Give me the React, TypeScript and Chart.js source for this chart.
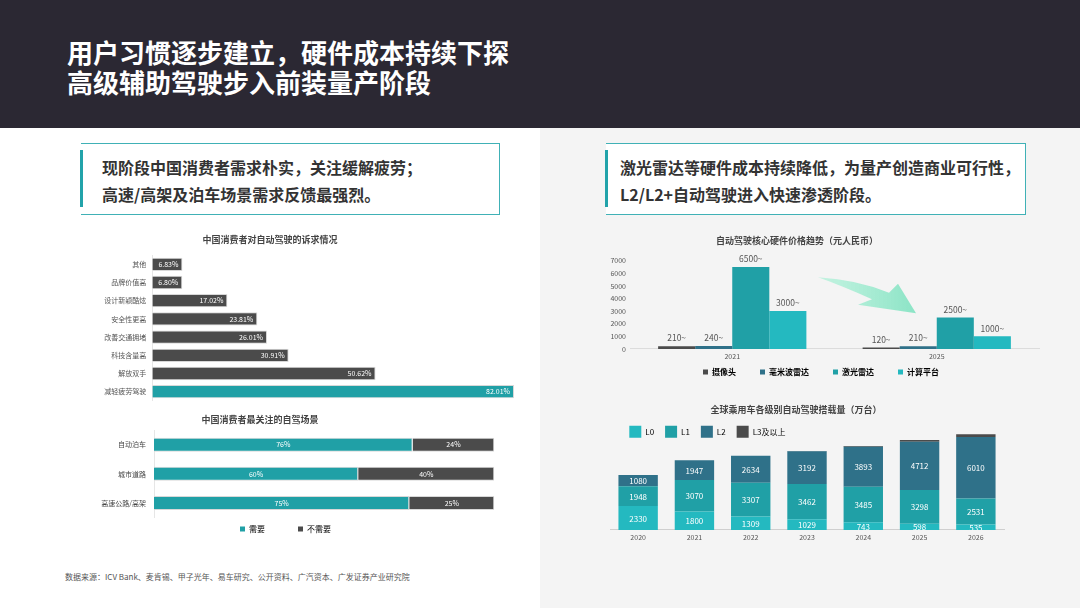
import React, { useEffect, useRef } from 'react';
import { Chart, registerables } from 'chart.js';

Chart.register(...registerables);

const FONT = '"Noto Sans CJK SC", "Noto Sans", sans-serif';
Chart.defaults.font.family = FONT;

// ---------- Data ----------
const demandLabels = ['其他', '品牌价值高', '设计新颖酷炫', '安全性更高', '改善交通拥堵', '科技含量高', '解放双手', '减轻疲劳驾驶'];
const demandValues = [6.83, 6.80, 17.02, 23.81, 26.01, 30.91, 50.62, 82.01];

const sceneLabels = ['自动泊车', '城市道路', '高速公路/高架'];
const sceneNeed = [76, 60, 75];
const sceneNoNeed = [24, 40, 25];

const priceYears = ['2021', '2025'];
const priceCamera = [210, 120];
const priceRadar = [240, 210];
const priceLidar = [6500, 2500];
const priceCompute = [3000, 1000];
const priceTicks = [0, 1000, 2000, 3000, 4000, 5000, 6000, 7000];

const fleetYears = ['2020', '2021', '2022', '2023', '2024', '2025', '2026'];
const fleetL0 = [2330, 1800, 1309, 1029, 743, 598, 535];
const fleetL1 = [1948, 3070, 3307, 3462, 3485, 3298, 2531];
const fleetL2 = [1080, 1947, 2634, 3192, 3893, 4712, 6010];
const fleetL3 = [0, 0, 0, 30, 80, 170, 280];

// ---------- Colors ----------
const DARK = '#4b4b4b';
const TEAL = '#20a0a6';
const CYAN = '#24b9c0';
const BLUE = '#2f7189';

// ---------- Plugins ----------
function makePlace(cfg: any) {
  return {
    id: 'place',
    afterLayout(chart: any) {
      const t = chart.titleBlock;
      if (t && cfg.titleX != null) {
        const lh = cfg.titleLH;
        t.left = cfg.titleX - 250;
        t.right = cfg.titleX + 250;
        t.top = cfg.titleY - lh / 2;
        t.bottom = t.top + lh;
      }
      const l = chart.legend;
      if (l && cfg.legendX != null) {
        const pad = l.options.labels.padding;
        const ih = cfg.legendIH;
        l.left = cfg.legendX - pad;
        l.right = l.left + 700;
        l.top = cfg.legendY - pad - ih / 2;
        l.bottom = l.top + ih + 2 * pad + 10;
      }
    },
  };
}

function makeLabels(cfg: any) {
  return {
    id: 'valueLabels',
    afterDatasetsDraw(chart: any) {
      const ctx = chart.ctx;
      ctx.save();
      if (cfg.clip) {
        const a = chart.chartArea;
        ctx.beginPath();
        ctx.rect(a.left, a.top, a.right - a.left, a.bottom - a.top);
        ctx.clip();
      }
      ctx.font = `${cfg.weight || 'normal'} ${cfg.size}px ${FONT}`;
      ctx.fillStyle = cfg.color;
      chart.data.datasets.forEach((ds: any, di: number) => {
        const meta = chart.getDatasetMeta(di);
        meta.data.forEach((el: any, i: number) => {
          const t = cfg.fmt(ds.data[i], di);
          if (t == null) return;
          const p = el.getProps(['x', 'y', 'base'], true);
          if (cfg.mode === 'hend') {
            ctx.textAlign = 'right';
            ctx.textBaseline = 'middle';
            ctx.fillText(t, p.x - 4, p.y);
          } else if (cfg.mode === 'hcenter') {
            ctx.textAlign = 'center';
            ctx.textBaseline = 'middle';
            ctx.fillText(t, (p.x + p.base) / 2, p.y);
          } else if (cfg.mode === 'vcenter') {
            ctx.textAlign = 'center';
            ctx.textBaseline = 'middle';
            ctx.fillText(t, p.x, (p.y + p.base) / 2 + 0.5);
          } else if (cfg.mode === 'vabove') {
            ctx.textAlign = 'center';
            ctx.textBaseline = 'middle';
            ctx.fillText(t, p.x, p.y - 8);
          }
        });
      });
      ctx.restore();
    },
  };
}

// decorative arrow drawn relative to chart area
const arrowPlugin = {
  id: 'arrow',
  afterDatasetsDraw(chart: any) {
    const a = chart.chartArea;
    const ctx = chart.ctx;
    const P = (x: number, y: number) => [a.left + x, a.top + y];
    ctx.save();
    const g = ctx.createLinearGradient(a.left + 188, 0, a.left + 286, 0);
    g.addColorStop(0, 'rgba(190,242,222,0.9)');
    g.addColorStop(1, 'rgba(140,228,198,1)');
    ctx.fillStyle = g;
    ctx.beginPath();
    let p = P(188, 16.5);
    ctx.moveTo(p[0], p[1]);
    let c = P(228, 19);
    p = P(259, 32);
    ctx.quadraticCurveTo(c[0], c[1], p[0], p[1]);
    p = P(268, 23);
    ctx.lineTo(p[0], p[1]);
    p = P(286, 52.5);
    ctx.lineTo(p[0], p[1]);
    p = P(228, 44);
    ctx.lineTo(p[0], p[1]);
    p = P(242, 38.5);
    ctx.lineTo(p[0], p[1]);
    c = P(212, 25);
    p = P(188, 16.5);
    ctx.quadraticCurveTo(c[0], c[1], p[0], p[1]);
    ctx.closePath();
    ctx.fill();
    ctx.restore();
  },
};

function boxLegend(colors: string[], names: string[]) {
  return () => names.map((n, i) => ({
    text: n,
    fillStyle: colors[i],
    strokeStyle: colors[i],
    lineWidth: 0,
    hidden: false,
    datasetIndex: i,
  }));
}

const fixWidth = (w: number) => (s: any) => {
  s.width = w;
  s.paddingTop = 0;
  s.paddingBottom = 0;
};

// ---------- Chart configs ----------
function configA(ox: number, oy: number): any {
  return {
    type: 'bar',
    data: {
      labels: demandLabels,
      datasets: [{
        data: demandValues,
        backgroundColor: demandValues.map((_, i) => (i === demandValues.length - 1 ? TEAL : DARK)),
        borderColor: '#d8d8d8',
        borderWidth: 1,
        categoryPercentage: 1,
        barPercentage: 0.73,
      }],
    },
    options: {
      indexAxis: 'y',
      animation: false,
      responsive: false,
      layout: { autoPadding: false, padding: { top: 16.4, bottom: 2.2, left: 0, right: 16 } },
      scales: {
        x: { display: false, min: 0, max: Math.max(...demandValues) },
        y: {
          grid: { display: false, drawTicks: false },
          border: { display: true, color: '#e6e6e6' },
          ticks: { padding: 6, color: '#555', font: { size: 7 } },
          afterFit: fixWidth(132.3),
        },
      },
      plugins: {
        legend: { display: false },
        tooltip: { enabled: false },
        title: { display: true, text: '中国消费者对自动驾驶的诉求情况', color: '#444', padding: 0, font: { size: 9, weight: 'bold' } },
      },
    },
    plugins: [
      makePlace({ titleX: 270 - ox, titleY: 240 - oy, titleLH: 10.8 }),
      makeLabels({ mode: 'hend', color: '#fff', size: 7, fmt: (v: number) => v.toFixed(2) + '%' }),
    ],
  };
}

function configB(ox: number, oy: number): any {
  const colors = [TEAL, DARK];
  const names = ['需要', '不需要'];
  return {
    type: 'bar',
    data: {
      labels: sceneLabels,
      datasets: [
        { label: names[0], data: sceneNeed, backgroundColor: colors[0], borderColor: '#d8d8d8', borderWidth: 1, categoryPercentage: 1, barPercentage: 0.48 },
        { label: names[1], data: sceneNoNeed, backgroundColor: colors[1], borderColor: '#d8d8d8', borderWidth: 1, categoryPercentage: 1, barPercentage: 0.48 },
      ],
    },
    options: {
      indexAxis: 'y',
      animation: false,
      responsive: false,
      layout: { autoPadding: false, padding: { top: 11.3, bottom: 19.4, left: 0, right: 25.7 } },
      scales: {
        x: { display: false, stacked: true, min: 0, max: 100 },
        y: {
          stacked: true,
          grid: { display: false, drawTicks: false },
          border: { display: true, color: '#e6e6e6' },
          ticks: { padding: 8, color: '#444', font: { size: 7 } },
          afterFit: fixWidth(134),
        },
      },
      plugins: {
        legend: {
          display: true,
          position: 'bottom',
          align: 'start',
          maxHeight: 1,
          labels: { boxWidth: 5, boxHeight: 5, padding: 33, color: '#444', font: { size: 8 }, generateLabels: boxLegend(colors, names) },
        },
        tooltip: { enabled: false },
        title: { display: true, text: '中国消费者最关注的自驾场景', color: '#444', padding: 0, font: { size: 9, weight: 'bold' } },
      },
    },
    plugins: [
      makePlace({ titleX: 260 - ox, titleY: 420 - oy, titleLH: 10.8, legendX: 240 - ox, legendY: 529 - oy, legendIH: 8 }),
      makeLabels({ mode: 'hcenter', color: '#fff', size: 7, fmt: (v: number) => v + '%' }),
    ],
  };
}

function configC(ox: number, oy: number): any {
  const colors = [DARK, BLUE, TEAL, CYAN];
  const names = ['摄像头', '毫米波雷达', '激光雷达', '计算平台'];
  const series = [priceCamera, priceRadar, priceLidar, priceCompute];
  return {
    type: 'bar',
    data: {
      labels: priceYears,
      datasets: series.map((d, i) => ({
        label: names[i], data: d, backgroundColor: colors[i], borderWidth: 0,
        categoryPercentage: 0.725, barPercentage: 1,
      })),
    },
    options: {
      animation: false,
      responsive: false,
      layout: { autoPadding: false, padding: { top: 21.9, bottom: 15.7, left: 0, right: 6 } },
      scales: {
        x: {
          grid: { display: false, drawTicks: false },
          border: { display: true, color: '#dcdcdc' },
          ticks: { padding: 3, color: '#555', font: { size: 7 } },
        },
        y: {
          min: 0, max: priceTicks[priceTicks.length - 1],
          afterBuildTicks: (s: any) => { s.ticks = priceTicks.map((v) => ({ value: v })); },
          grid: { display: false, drawTicks: false },
          border: { display: false },
          ticks: { padding: 4, color: '#555', font: { size: 7 }, callback: (v: any) => String(v) },
          afterFit: fixWidth(75),
        },
      },
      plugins: {
        legend: {
          display: true,
          position: 'bottom',
          align: 'start',
          maxHeight: 1,
          labels: { boxWidth: 5, boxHeight: 5, padding: 24, color: '#333', font: { size: 8, weight: 'bold' }, generateLabels: boxLegend(colors, names) },
        },
        tooltip: { enabled: false },
        title: { display: true, text: '自动驾驶核心硬件价格趋势（元人民币）', color: '#444', padding: 0, font: { size: 9, weight: 'bold' } },
      },
    },
    plugins: [
      makePlace({ titleX: 797 - ox, titleY: 241 - oy, titleLH: 10.8, legendX: 703 - ox, legendY: 372 - oy, legendIH: 8 }),
      arrowPlugin,
      makeLabels({ mode: 'vabove', color: '#555', size: 8.5, fmt: (v: number) => v + '~' }),
    ],
  };
}

function configD(ox: number, oy: number): any {
  const colors = [CYAN, TEAL, BLUE, DARK];
  const names = ['L0', 'L1', 'L2', 'L3及以上'];
  const series = [fleetL0, fleetL1, fleetL2, fleetL3];
  return {
    type: 'bar',
    data: {
      labels: fleetYears,
      datasets: series.map((d, i) => ({
        label: names[i], data: d, backgroundColor: colors[i], borderWidth: 0,
        categoryPercentage: 1, barPercentage: 0.7,
      })),
    },
    options: {
      animation: false,
      responsive: false,
      layout: { autoPadding: false, padding: { top: 16.8, bottom: 2.7, left: 0, right: 24 } },
      scales: {
        x: {
          stacked: true,
          grid: { display: false, drawTicks: false },
          border: { display: true, color: '#cfcfcf' },
          ticks: { padding: 3, color: '#555', font: { size: 7 } },
        },
        y: {
          stacked: true, min: 0, max: 10000,
          grid: { display: false, drawTicks: false },
          border: { display: false },
          ticks: { display: false },
          afterFit: fixWidth(22),
        },
      },
      plugins: {
        legend: {
          display: true,
          position: 'bottom',
          align: 'start',
          maxHeight: 1,
          labels: { boxWidth: 12, boxHeight: 12, padding: 11, color: '#666', font: { size: 8 }, generateLabels: boxLegend(colors, names) },
        },
        tooltip: { enabled: false },
        title: { display: true, text: '全球乘用车各级别自动驾驶搭载量（万台）', color: '#444', padding: 0, font: { size: 9, weight: 'bold' } },
      },
    },
    plugins: [
      makePlace({ titleX: 796 - ox, titleY: 410 - oy, titleLH: 10.8, legendX: 629.3 - ox, legendY: 431.7 - oy, legendIH: 12 }),
      makeLabels({ mode: 'vcenter', color: '#fff', size: 8, clip: true, fmt: (v: number, di: number) => (di === 3 ? null : String(v)) }),
    ],
  };
}

function ChartBox({ left, top, width, height, make }: any) {
  const ref = useRef<HTMLCanvasElement>(null);
  useEffect(() => {
    const chart = new Chart(ref.current as HTMLCanvasElement, make(left, top));
    return () => chart.destroy();
  }, []);
  return (
    <canvas
      ref={ref}
      width={width}
      height={height}
      style={{ position: 'absolute', left, top, width, height }}
    />
  );
}

const abs = (s: any) => ({ position: 'absolute' as const, ...s });

export default function App() {
  return (
    <div style={{ position: 'fixed', left: 0, top: 0, width: 1080, height: 608, background: '#fff', overflow: 'hidden', fontFamily: FONT }}>
      <div style={abs({ left: 0, top: 0, width: 1080, height: 128, background: '#2b2833' })} />
      <div style={abs({ left: 540, top: 128, width: 540, height: 480, background: '#f4f4f4' })} />
      <div style={abs({ left: 67, top: 37, color: '#fff', fontSize: 26, fontWeight: 'bold', lineHeight: '30px', whiteSpace: 'nowrap' })}>用户习惯逐步建立，硬件成本持续下探</div>
      <div style={abs({ left: 67, top: 67, color: '#fff', fontSize: 26, fontWeight: 'bold', lineHeight: '30px', whiteSpace: 'nowrap' })}>高级辅助驾驶步入前装量产阶段</div>

      <div style={abs({ left: 81, top: 143, width: 418, height: 70, border: '1px solid #40b1b6', borderLeft: 'none', background: '#fff' })} />
      <div style={abs({ left: 80, top: 150, width: 3, height: 57, background: '#22a3aa' })} />
      <div style={abs({ left: 102, top: 156.5, color: '#333', fontSize: 16, fontWeight: 'bold', lineHeight: '20px', whiteSpace: 'nowrap' })}>现阶段中国消费者需求朴实，关注缓解疲劳；</div>
      <div style={abs({ left: 102, top: 183.5, color: '#333', fontSize: 16, fontWeight: 'bold', lineHeight: '20px', whiteSpace: 'nowrap' })}>高速/高架及泊车场景需求反馈最强烈。</div>

      <div style={abs({ left: 606, top: 143, width: 419, height: 70, border: '1px solid #40b1b6', borderLeft: 'none', background: '#fff' })} />
      <div style={abs({ left: 605, top: 150, width: 3, height: 57, background: '#22a3aa' })} />
      <div style={abs({ left: 620, top: 156.5, color: '#333', fontSize: 16, fontWeight: 'bold', lineHeight: '20px', whiteSpace: 'nowrap' })}>激光雷达等硬件成本持续降低，为量产创造商业可行性，</div>
      <div style={abs({ left: 620, top: 183.5, color: '#333', fontSize: 16, fontWeight: 'bold', lineHeight: '20px', whiteSpace: 'nowrap' })}>L2/L2+自动驾驶进入快速渗透阶段。</div>

      <ChartBox left={20} top={228} width={510} height={175} make={configA} />
      <ChartBox left={20} top={408} width={500} height={130} make={configB} />
      <ChartBox left={555} top={228} width={490} height={152} make={configC} />
      <ChartBox left={588} top={400} width={440} height={148} make={configD} />

      <div style={abs({ left: 65, top: 571.5, color: '#555', fontSize: 8, lineHeight: '10px', whiteSpace: 'nowrap' })}>数据来源：ICV Bank、麦肯锡、甲子光年、易车研究、公开资料、广汽资本、广发证券产业研究院</div>
    </div>
  );
}
